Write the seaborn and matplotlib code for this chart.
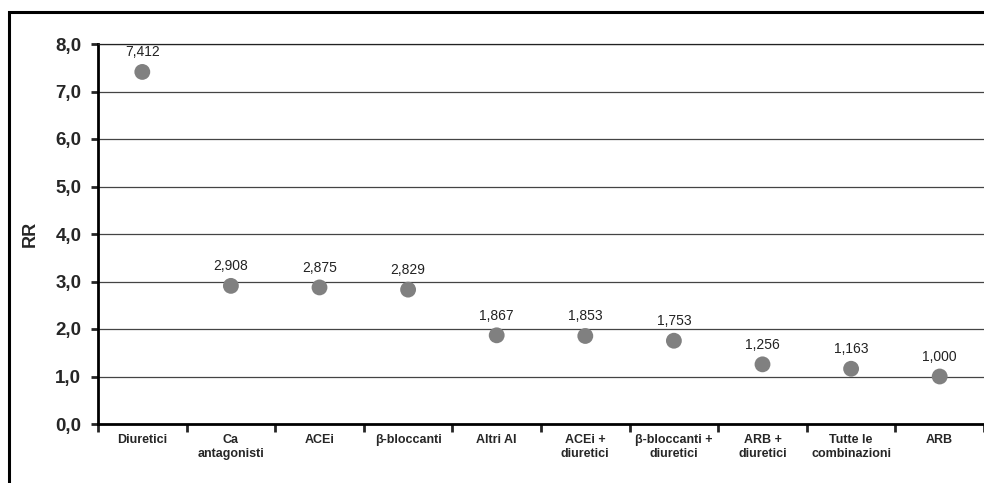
import pandas as pd
import seaborn as sns
import matplotlib.pyplot as plt
from matplotlib.patches import Rectangle

categories = ['Diuretici', 'Ca\nantagonisti', 'ACEi', 'β-bloccanti', 'Altri AI',
              'ACEi +\ndiuretici', 'β-bloccanti +\ndiuretici', 'ARB +\ndiuretici',
              'Tutte le\ncombinazioni', 'ARB']
rr = [7.412, 2.908, 2.875, 2.829, 1.867, 1.853, 1.753, 1.256, 1.163, 1.000]
rr_labels = ['7,412', '2,908', '2,875', '2,829', '1,867', '1,853', '1,753', '1,256', '1,163', '1,000']
y_ticks = [0, 1, 2, 3, 4, 5, 6, 7, 8]
y_tick_labels = ['0,0', '1,0', '2,0', '3,0', '4,0', '5,0', '6,0', '7,0', '8,0']

df = pd.DataFrame({'categoria': categories, 'RR': rr})

sns.set_style('white')
plt.rcParams['font.family'] = ['Liberation Sans', 'DejaVu Sans']

fig = plt.figure(figsize=(9.84, 4.83), dpi=100)
ax = fig.add_axes([98 / 984, 1 - 424 / 483, 1 - 98 / 984, (424 - 44) / 483])

# grid lines drawn under the points
for y in y_ticks[1:]:
    ax.axhline(y, color='#444444', lw=0.9, zorder=0)

sns.scatterplot(data=df, x='categoria', y='RR', color='#808080', s=130,
                edgecolor='none', ax=ax, zorder=3)

for i, (v, lab) in enumerate(zip(rr, rr_labels)):
    ax.annotate(lab, (i, v), xytext=(0, 9), textcoords='offset points',
                ha='center', va='bottom', fontsize=10, color='#222222')

ax.set_xlim(-0.5, len(categories) - 0.5)
ax.set_ylim(0, 8)
ax.set_yticks(y_ticks)
ax.set_yticklabels(y_tick_labels, fontsize=13.5, fontweight='bold')
ax.set_xticks(range(len(categories)))
ax.set_xticklabels(categories, fontsize=9, fontweight='bold', linespacing=1.25)
ax.set_xticks([i - 0.5 for i in range(len(categories) + 1)], minor=True)
ax.tick_params(axis='x', which='major', length=0, pad=7)
ax.tick_params(axis='x', which='minor', length=6, width=2, direction='out', bottom=True)
ax.tick_params(axis='y', length=5, width=2, direction='out', left=True, pad=7)
ax.set_xlabel('')
ax.set_ylabel('RR', fontsize=13, fontweight='bold', labelpad=12)

for side in ['left', 'bottom']:
    ax.spines[side].set_linewidth(2)
    ax.spines[side].set_color('black')
ax.spines['top'].set_linewidth(0.9)
ax.spines['top'].set_color('#222222')
ax.spines['right'].set_visible(False)

# outer frame running off the right and bottom edges
fig.patches.append(Rectangle((9 / 984, -0.2), 1.2, 0.2 + (483 - 12) / 483,
                             transform=fig.transFigure, fill=False,
                             edgecolor='black', lw=2.2))

fig.savefig('out.png', dpi=100)
